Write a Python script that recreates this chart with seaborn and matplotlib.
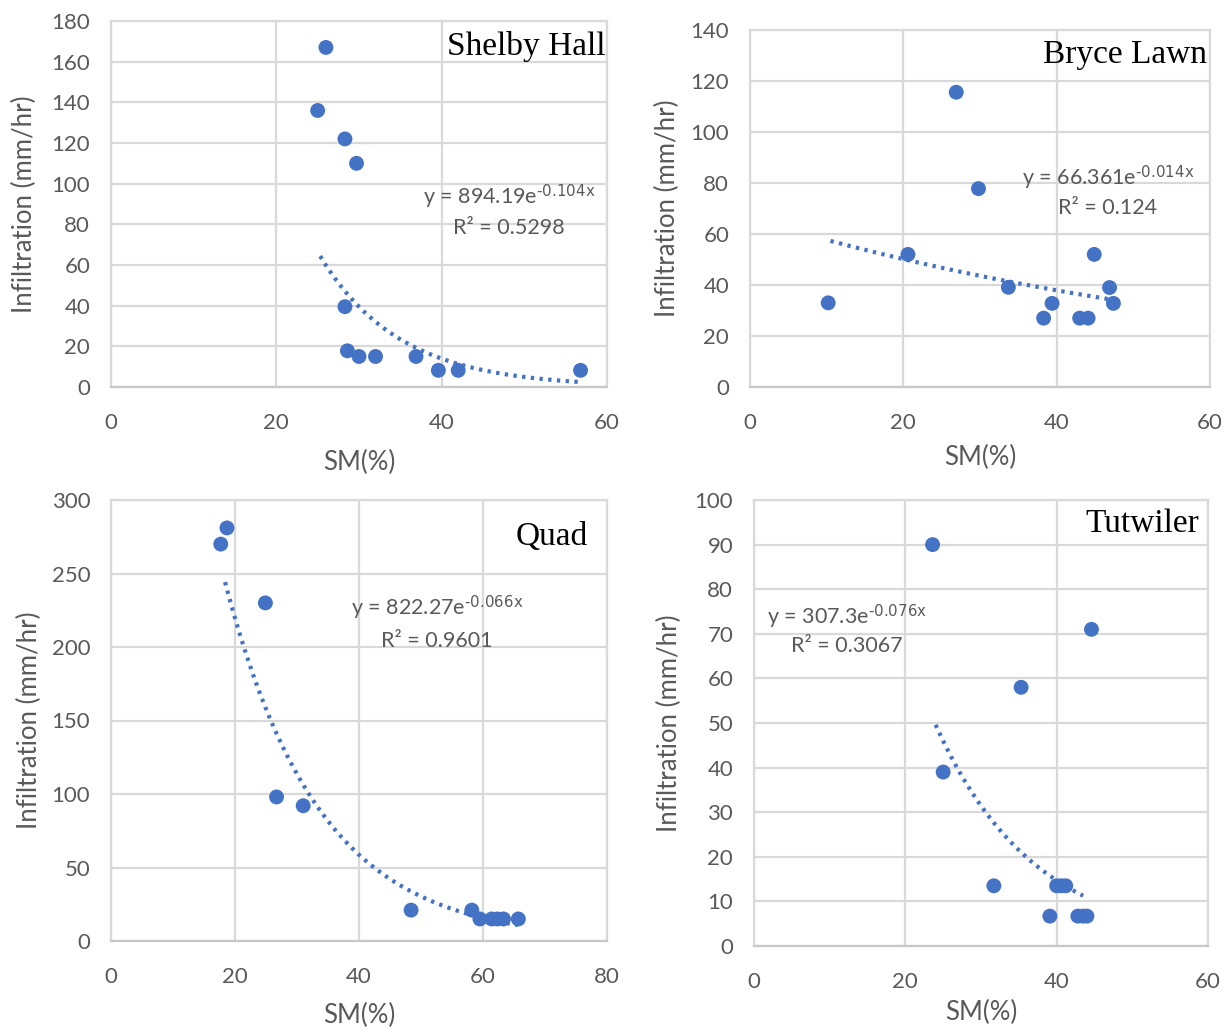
import numpy as np
import pandas as pd
import matplotlib
matplotlib.use("Agg")
import matplotlib.pyplot as plt
import seaborn as sns

# ---------------- data ----------------
shelby_sm = [26.0, 25.0, 28.3, 29.7, 28.3, 28.6, 30.0, 32.0, 36.9, 39.6, 42.0, 56.8]
shelby_inf = [167, 136, 122, 110, 39.5, 17.8, 15, 15, 15, 8.2, 8.2, 8.2]
shelby_fit = (894.19, -0.104)
shelby_fit_range = (25.3, 57.0)

bryce_sm = [10.2, 20.6, 26.9, 29.8, 33.7, 38.3, 39.4, 43.0, 44.1, 44.9, 46.9, 47.4]
bryce_inf = [33, 52, 115.6, 77.8, 39.1, 27, 32.8, 27, 27, 52, 39, 32.8]
bryce_fit = (66.361, -0.014)
bryce_fit_range = (10.5, 47.2)

quad_sm = [17.7, 18.7, 24.9, 26.7, 31.0, 48.4, 58.2, 59.5, 61.4, 62.3, 63.3, 65.7]
quad_inf = [270, 281, 230, 98, 92, 21, 21, 15, 15, 15, 15, 15]
quad_fit = (822.27, -0.066)
quad_fit_range = (18.4, 65.6)

tut_sm = [23.6, 44.6, 35.3, 25.0, 31.7, 40.0, 40.6, 41.2, 39.1, 42.8, 43.5, 44.0]
tut_inf = [90, 71, 58, 39, 13.5, 13.5, 13.5, 13.5, 6.7, 6.7, 6.7, 6.7]
tut_fit = (307.3, -0.076)
tut_fit_range = (24.0, 43.5)

names = ["Shelby Hall", "Bryce Lawn", "Quad", "Tutwiler"]
eq_texts = [r"y = 894.19e$^{\text{-0.104x}}$", r"y = 66.361e$^{\text{-0.014x}}$",
            r"y = 822.27e$^{\text{-0.066x}}$", r"y = 307.3e$^{\text{-0.076x}}$"]
r2_texts = ["R² = 0.5298", "R² = 0.124", "R² = 0.9601", "R² = 0.3067"]
x_ticks = [[0, 20, 40, 60], [0, 20, 40, 60], [0, 20, 40, 60, 80], [0, 20, 40, 60]]
y_ticks = [list(range(0, 181, 20)), list(range(0, 141, 20)),
           list(range(0, 301, 50)), list(range(0, 101, 10))]
x_label = "SM(%)"
y_label = "Infiltration (mm/hr)"

# ---------------- style ----------------
sns.set_theme(style="whitegrid")
plt.rcParams["font.family"] = ["Lato", "DejaVu Sans"]
plt.rcParams["mathtext.default"] = "regular"

BLUE = "#4472C4"
GRID = "#d9d9d9"
TXT = "#595959"

fig = plt.figure(figsize=(12.29, 10.33), dpi=100)
W, H = 1229, 1033
# axes boxes in pixels: left, right, top, bottom
boxes = [(111, 607, 21, 387), (750, 1210, 30, 387),
         (111, 607, 500, 941), (754, 1208, 500, 946)]

panels = [
    (shelby_sm, shelby_inf, shelby_fit, shelby_fit_range),
    (bryce_sm, bryce_inf, bryce_fit, bryce_fit_range),
    (quad_sm, quad_inf, quad_fit, quad_fit_range),
    (tut_sm, tut_inf, tut_fit, tut_fit_range),
]
eq_pos = [(0.803, 0.519, 0.434), (0.778, 0.585, 0.501),
          (0.657, 0.755, 0.680), (0.205, 0.738, 0.673)]
name_pos = [(0.996, 0.929), (0.993, 0.930), (0.962, 0.916), (0.980, 0.946)]
ylabel_right = [37, 680, 42, 682]
xlabel_center = [462, 457, 1015, 1012]

for i, (sm, inf, fit, frange) in enumerate(panels):
    l, r, t, b = boxes[i]
    ax = fig.add_axes([l / W, 1 - b / H, (r - l) / W, (b - t) / H])
    df = pd.DataFrame({"sm": sm, "inf": inf})
    a, k = fit
    xs = np.linspace(frange[0], frange[1], 200)
    fdf = pd.DataFrame({"sm": xs, "inf": a * np.exp(k * xs)})
    sns.lineplot(data=fdf, x="sm", y="inf", ax=ax, color=BLUE, lw=3.0,
                 linestyle=(0, (0.8, 1.3)), zorder=3)
    sns.scatterplot(data=df, x="sm", y="inf", ax=ax, color=BLUE, s=115,
                    edgecolor="none", zorder=4)
    ax.set_xlim(x_ticks[i][0], x_ticks[i][-1])
    ax.set_ylim(y_ticks[i][0], y_ticks[i][-1])
    ax.set_xticks(x_ticks[i])
    ax.set_yticks(y_ticks[i])
    ax.grid(True, color=GRID, lw=1.6)
    ax.set_facecolor("white")
    for sp in ax.spines.values():
        sp.set_visible(True)
        sp.set_color(GRID)
        sp.set_linewidth(1.6)
    ax.spines["bottom"].set_color("#c8c8c8")
    ax.tick_params(axis="both", length=0, labelsize=16, labelcolor=TXT)
    ax.tick_params(axis="x", pad=19)
    ax.tick_params(axis="y", pad=15)
    ax.set_xlabel(x_label, fontsize=18.5, color=TXT, va="center")
    ax.xaxis.set_label_coords(0.5, (b - xlabel_center[i]) / (b - t))
    ax.set_ylabel(y_label, fontsize=18.5, color=TXT)
    ax.yaxis.set_label_coords((ylabel_right[i] - l) / (r - l), 0.5)
    ex, ey, ry = eq_pos[i]
    ax.text(ex, ey, eq_texts[i], transform=ax.transAxes, ha="center",
            va="center", fontsize=15.5, color=TXT)
    ax.text(ex, ry, r2_texts[i], transform=ax.transAxes, ha="center",
            va="center", fontsize=15.5, color=TXT)
    nx, ny = name_pos[i]
    ax.text(nx, ny, names[i], transform=ax.transAxes, ha="right", va="center",
            fontsize=24, color="black", family=["Liberation Serif", "DejaVu Serif"])

fig.savefig("out.png", dpi=100, facecolor="white")
